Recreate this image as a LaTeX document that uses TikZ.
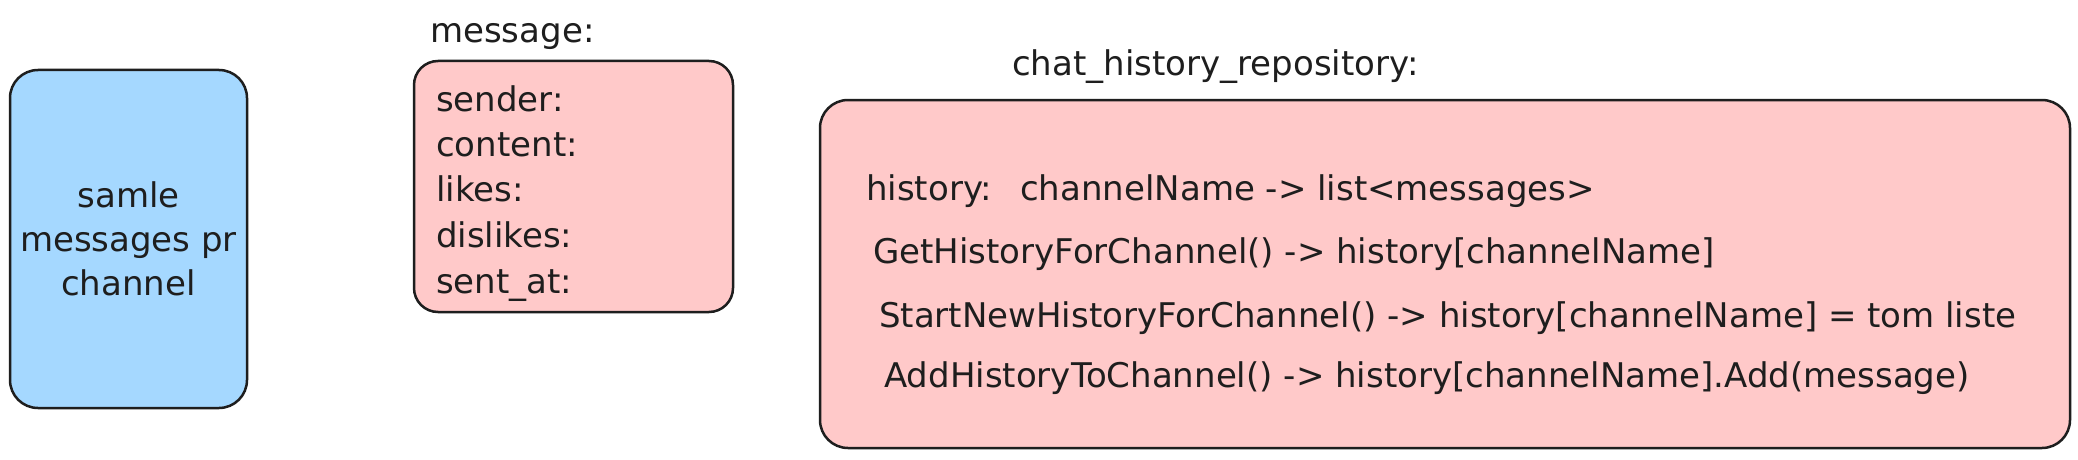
\documentclass[tikz,border=0pt]{standalone}
\usepackage{fontspec}
\setmainfont{DejaVu Sans}
\definecolor{strokec}{HTML}{1E1E1E}
\definecolor{bluefill}{HTML}{A5D8FF}
\definecolor{pinkfill}{HTML}{FFC9C9}
\tikzset{
  box/.style={draw=strokec, line width=2.5pt, rounded corners=28pt, inner sep=0pt},
  txt/.style={anchor=base west, inner sep=0pt, font=\fontsize{34}{44}\selectfont, text=strokec},
}
\begin{document}
\begin{tikzpicture}[x=1pt,y=-1pt]
\useasboundingbox[fill=white] (0,0) rectangle (2078,460);
% blue box
\node[box, fill=bluefill, minimum width=237pt, minimum height=338pt, align=center,
      font=\fontsize{34}{44}\selectfont, text=strokec] (samle) at (128.5,239) {samle\\messages pr\\channel};
% message box
\node[box, fill=pinkfill, rounded corners=24pt, minimum width=319pt, minimum height=251pt] (msgbox) at (573.5,186.5) {};
\node[txt] (msgtitle) at (430,43) {message:};
\node[txt] (f1) at (436,111) {sender:};
\node[txt] (f2) at (436,156) {content:};
\node[txt] (f3) at (436,201) {likes:};
\node[txt] (f4) at (436,247) {dislikes:};
\node[txt] (f5) at (436,293) {sent\_at:};
% chat history box
\node[box, fill=pinkfill, minimum width=1250pt, minimum height=348pt] (chatbox) at (1445,274) {};
\node[txt] (chattitle) at (1012,76) {chat\_history\_repository:};
\node[txt] (hist) at (866,200) {history:};
\node[txt] (histval) at (1020,200) {channelName -> list<messages>};
\node[txt] (get) at (873,263) {GetHistoryForChannel() -> history[channelName]};
\node[txt] (start) at (879,327) {StartNewHistoryForChannel() -> history[channelName] = tom liste};
\node[txt] (add) at (884,387) {AddHistoryToChannel() -> history[channelName].Add(message)};
\end{tikzpicture}
\end{document}
